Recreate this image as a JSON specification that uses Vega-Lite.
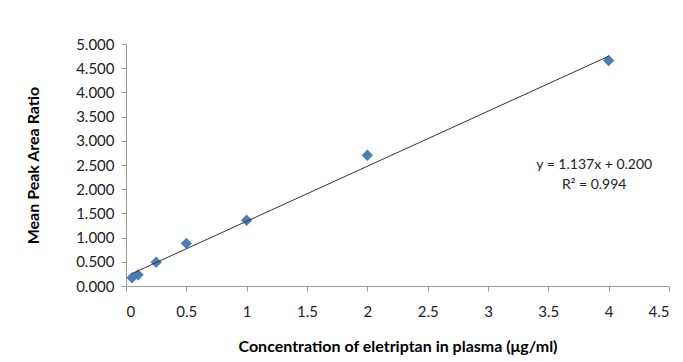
{
  "$schema": "https://vega.github.io/schema/vega-lite/v6.json",
  "width": 543,
  "height": 242,
  "autosize": "none",
  "padding": {"left": 126, "top": 44, "right": 14, "bottom": 76},
  "background": "white",
  "config": {
    "view": {"stroke": null},
    "font": "Lato",
    "axis": {
      "grid": false,
      "domainColor": "#999999",
      "tickColor": "#999999",
      "tickSize": 5,
      "labelFont": "Lato",
      "labelFontSize": 15,
      "labelColor": "#222222",
      "titleFont": "Lato",
      "titleFontSize": 16,
      "titleFontWeight": "bold",
      "titleColor": "#000000"
    }
  },
  "datasets": {
    "points": [
      {"conc": 0.05, "ratio": 0.17},
      {"conc": 0.1, "ratio": 0.23},
      {"conc": 0.25, "ratio": 0.49},
      {"conc": 0.5, "ratio": 0.88},
      {"conc": 1, "ratio": 1.36},
      {"conc": 2, "ratio": 2.7},
      {"conc": 4, "ratio": 4.66}
    ],
    "trend": [
      {"conc": 0.05, "ratio": 0.257},
      {"conc": 4, "ratio": 4.748}
    ]
  },
  "layer": [
    {
      "data": {"name": "points"},
      "mark": {"type": "point", "shape": "diamond", "filled": true, "size": 130, "color": "#4A7EBB", "opacity": 1},
      "encoding": {
        "x": {
          "field": "conc", "type": "quantitative",
          "scale": {"domain": [0, 4.5], "nice": false, "zero": true},
          "axis": {"tickCount": 9, "format": ".1~f", "labelOverlap": false, "labelPadding": 13, "title": "Concentration of eletriptan in plasma (μg/ml)", "titlePadding": 19}
        },
        "y": {
          "field": "ratio", "type": "quantitative",
          "scale": {"domain": [0, 5], "nice": false},
          "axis": {"tickCount": 10, "format": ".3f", "labelOverlap": false, "labelPadding": 7, "title": "Mean Peak Area Ratio", "titlePadding": 34}
        }
      }
    },
    {
      "data": {"name": "trend"},
      "mark": {"type": "line", "color": "#333333", "strokeWidth": 1},
      "encoding": {
        "x": {"field": "conc", "type": "quantitative"},
        "y": {"field": "ratio", "type": "quantitative"}
      }
    },
    {
      "data": {"values": [{"eq": "y = 1.137x + 0.200"}]},
      "mark": {"type": "text", "text": ["y = 1.137x + 0.200", "R² = 0.994"], "font": "Lato", "fontSize": 14, "color": "#222222", "align": "center", "baseline": "middle", "lineHeight": 20},
      "encoding": {
        "x": {"datum": 3.88, "type": "quantitative"},
        "y": {"datum": 2.5, "type": "quantitative"}
      }
    }
  ]
}
